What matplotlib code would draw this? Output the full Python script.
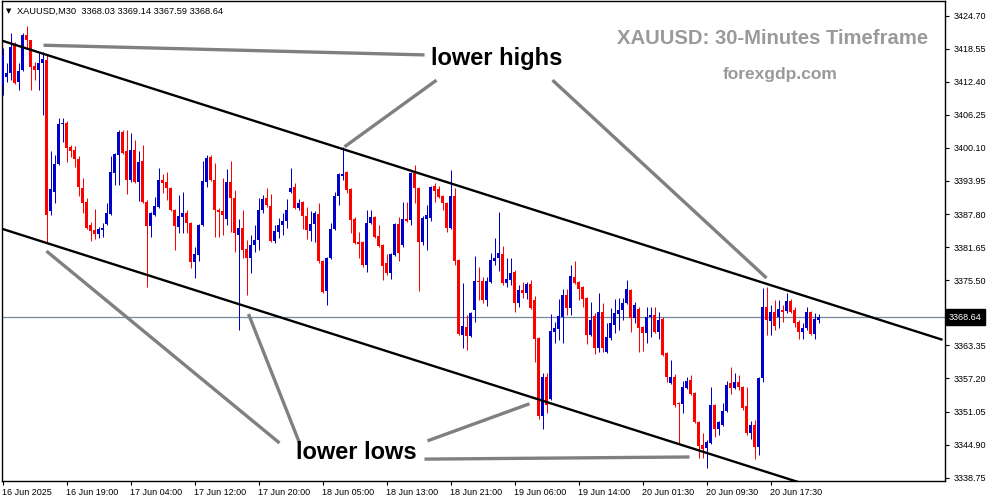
import matplotlib
matplotlib.use("Agg")
import matplotlib.pyplot as plt
import numpy as np
from matplotlib.transforms import blended_transform_factory

# ---------------- data (XAUUSD M30) ----------------
opens = [3411.8, 3413.3, 3414.0, 3419.3, 3412.4, 3414.6, 3421.1, 3420.2, 3415.3, 3414.6,
         3415.9, 3416.5, 3388.4, 3391.9, 3397.1, 3404.6, 3404.7, 3400.3, 3399.7, 3398.0,
         3392.6, 3390.0, 3385.8, 3384.8, 3384.1, 3384.8, 3386.0, 3387.8, 3395.4, 3398.8,
         3403.1, 3399.5, 3394.1, 3399.7, 3393.8, 3397.7, 3390.0, 3385.6, 3387.6, 3389.1,
         3394.1, 3393.8, 3392.6, 3388.6, 3385.4, 3387.3, 3388.0, 3386.1, 3378.9, 3380.2,
         3385.8, 3393.8, 3398.4, 3394.1, 3388.6, 3388.4, 3386.9, 3393.8, 3390.8, 3383.9,
         3385.2, 3381.3, 3379.6, 3382.0, 3383.0, 3388.6, 3390.8, 3389.3, 3382.8, 3384.5,
         3385.8, 3386.5, 3391.9, 3392.8, 3388.9, 3390.0, 3387.4, 3384.6, 3386.0, 3387.8,
         3379.1, 3373.5, 3379.6, 3385.0, 3391.2, 3394.9, 3395.6, 3392.5, 3386.9, 3382.6,
         3382.6, 3378.3, 3386.1, 3387.3, 3383.7, 3382.0, 3378.7, 3376.8, 3380.2, 3386.0,
         3382.0, 3386.9, 3386.7, 3395.4, 3392.6, 3382.6, 3386.9, 3387.1, 3393.0, 3392.5,
         3391.2, 3389.9, 3385.2, 3391.2, 3379.3, 3365.3, 3366.8, 3365.1, 3370.0, 3375.3,
         3375.3, 3371.8, 3375.2, 3379.1, 3379.6, 3380.4, 3375.0, 3375.5, 3377.0, 3371.3,
         3373.7, 3373.1, 3374.8, 3371.8, 3364.7, 3350.2, 3357.5, 3353.4, 3365.9, 3366.4,
         3368.6, 3372.7, 3370.3, 3376.1, 3375.2, 3374.2, 3372.2, 3365.3, 3368.8, 3362.9,
         3369.6, 3362.1, 3364.7, 3367.2, 3369.2, 3370.0, 3371.3, 3373.7, 3368.5, 3370.1,
         3366.8, 3365.7, 3368.6, 3369.0, 3365.9, 3368.3, 3361.9, 3356.4, 3357.5, 3352.6,
         3352.5, 3355.4, 3356.9, 3354.5, 3349.1, 3344.8, 3344.3, 3345.2, 3352.3, 3347.8,
         3348.6, 3351.2, 3356.4, 3355.4, 3356.6, 3355.6, 3352.1, 3347.1, 3348.6, 3344.5,
         3357.3, 3370.5, 3367.9, 3369.6, 3368.6, 3370.0, 3369.8, 3371.6, 3370.0, 3367.7,
         3365.9, 3366.6, 3369.6, 3365.5, 3368.03]
highs = [3418.7, 3415.9, 3421.5, 3419.8, 3415.9, 3421.5, 3422.8, 3420.2, 3416.1, 3417.8,
         3418.0, 3417.4, 3399.5, 3398.8, 3405.7, 3405.7, 3405.1, 3400.6, 3400.5, 3398.6,
         3394.5, 3390.8, 3386.3, 3388.7, 3385.4, 3386.1, 3389.9, 3398.6, 3399.2, 3403.4,
         3403.4, 3403.4, 3402.9, 3401.6, 3399.5, 3400.6, 3390.4, 3388.2, 3391.0, 3396.4,
         3395.3, 3395.6, 3392.8, 3388.7, 3391.3, 3391.9, 3388.6, 3386.3, 3381.7, 3386.0,
         3397.7, 3398.8, 3398.8, 3397.3, 3388.9, 3394.5, 3396.2, 3397.7, 3392.3, 3386.9,
         3388.6, 3383.0, 3383.9, 3385.8, 3390.8, 3391.3, 3392.6, 3391.5, 3385.8, 3387.1,
         3388.0, 3390.6, 3396.4, 3393.6, 3390.6, 3390.2, 3389.1, 3388.4, 3388.4, 3389.9,
         3379.3, 3379.8, 3386.1, 3391.9, 3395.4, 3400.3, 3395.8, 3392.6, 3387.3, 3384.5,
         3382.8, 3388.6, 3388.6, 3387.4, 3385.8, 3382.2, 3380.4, 3380.6, 3386.1, 3387.3,
         3390.0, 3390.0, 3395.6, 3396.9, 3392.8, 3387.4, 3389.5, 3393.0, 3393.6, 3393.0,
         3391.3, 3390.0, 3396.0, 3392.6, 3379.4, 3375.0, 3369.0, 3369.6, 3380.0, 3378.0,
         3376.1, 3376.1, 3380.6, 3383.3, 3388.2, 3381.9, 3379.6, 3379.6, 3377.4, 3374.6,
         3375.2, 3375.2, 3375.5, 3372.6, 3364.9, 3358.2, 3358.2, 3369.2, 3367.7, 3372.0,
         3373.9, 3373.9, 3378.3, 3379.1, 3375.3, 3374.4, 3372.4, 3371.4, 3369.4, 3373.1,
         3371.3, 3367.5, 3370.3, 3372.0, 3372.2, 3372.2, 3375.5, 3373.9, 3371.4, 3370.5,
         3367.0, 3370.5, 3370.5, 3370.5, 3369.6, 3368.6, 3362.1, 3360.6, 3358.0, 3352.8,
         3356.7, 3357.5, 3357.9, 3354.7, 3349.3, 3347.1, 3345.8, 3355.6, 3352.5, 3349.3,
         3352.6, 3356.7, 3359.3, 3358.2, 3357.9, 3355.8, 3355.6, 3349.3, 3349.5, 3357.5,
         3374.0, 3374.2, 3370.9, 3371.8, 3371.8, 3370.9, 3373.1, 3372.0, 3370.5, 3368.1,
         3367.5, 3370.5, 3369.8, 3369.4, 3369.14]
lows = [3409.9, 3412.4, 3412.7, 3412.0, 3410.9, 3414.4, 3418.7, 3410.9, 3412.7, 3410.9,
        3406.2, 3382.6, 3387.6, 3389.9, 3396.9, 3401.2, 3397.5, 3398.4, 3396.6, 3391.2,
        3388.0, 3385.0, 3382.8, 3383.2, 3383.3, 3383.5, 3385.8, 3387.6, 3393.2, 3393.2,
        3399.0, 3391.5, 3393.8, 3393.6, 3390.2, 3389.9, 3374.2, 3383.5, 3387.4, 3388.9,
        3391.7, 3390.4, 3388.4, 3381.1, 3384.3, 3384.3, 3384.3, 3377.8, 3375.9, 3379.1,
        3385.6, 3392.8, 3394.0, 3383.5, 3383.5, 3383.9, 3385.8, 3384.5, 3380.7, 3366.2,
        3379.6, 3372.7, 3376.8, 3380.7, 3381.1, 3388.0, 3389.1, 3382.6, 3382.4, 3383.3,
        3383.9, 3385.2, 3391.7, 3388.7, 3388.6, 3385.0, 3383.2, 3382.8, 3382.6, 3378.7,
        3373.1, 3370.9, 3379.4, 3384.8, 3389.5, 3394.1, 3391.7, 3384.3, 3382.2, 3379.6,
        3378.0, 3377.0, 3386.0, 3383.3, 3381.7, 3375.5, 3376.5, 3375.7, 3380.0, 3379.1,
        3381.7, 3386.3, 3385.8, 3389.9, 3373.5, 3382.0, 3381.1, 3386.5, 3390.0, 3390.8,
        3388.6, 3384.5, 3385.0, 3378.3, 3365.3, 3362.9, 3362.5, 3364.9, 3367.7, 3371.8,
        3371.3, 3370.7, 3375.0, 3378.3, 3377.2, 3374.6, 3374.2, 3374.6, 3369.6, 3370.5,
        3372.2, 3372.0, 3370.1, 3360.3, 3349.7, 3347.8, 3350.8, 3353.2, 3363.8, 3364.4,
        3363.8, 3369.0, 3369.0, 3374.8, 3371.8, 3370.5, 3363.6, 3365.1, 3361.8, 3362.1,
        3362.1, 3361.9, 3364.4, 3365.7, 3366.2, 3368.1, 3371.1, 3365.9, 3367.5, 3362.1,
        3362.3, 3363.8, 3364.9, 3365.7, 3364.6, 3361.4, 3356.6, 3356.2, 3351.9, 3345.0,
        3350.8, 3355.3, 3354.1, 3348.9, 3342.4, 3342.4, 3340.6, 3345.0, 3346.3, 3346.7,
        3348.4, 3351.0, 3354.3, 3355.3, 3355.1, 3351.3, 3346.7, 3346.0, 3342.2, 3343.0,
        3356.6, 3365.3, 3365.3, 3366.2, 3366.6, 3367.7, 3369.4, 3369.4, 3366.8, 3364.6,
        3364.6, 3366.2, 3365.3, 3364.6, 3367.59]
closes = [3417.4, 3414.0, 3418.9, 3412.2, 3414.4, 3421.1, 3420.2, 3415.2, 3414.6, 3415.9,
          3416.7, 3387.6, 3392.5, 3397.1, 3404.6, 3404.7, 3400.1, 3399.5, 3398.0, 3392.8,
          3389.9, 3385.2, 3384.6, 3384.1, 3385.0, 3385.2, 3388.0, 3395.6, 3399.0, 3403.1,
          3399.2, 3394.1, 3399.7, 3393.8, 3397.5, 3390.0, 3385.6, 3388.0, 3389.3, 3394.1,
          3393.6, 3392.6, 3388.6, 3385.6, 3387.4, 3388.0, 3386.1, 3378.9, 3380.4, 3385.8,
          3394.0, 3398.2, 3394.1, 3388.6, 3388.2, 3387.6, 3393.8, 3390.8, 3384.3, 3385.2,
          3381.1, 3379.6, 3382.0, 3383.0, 3388.6, 3390.6, 3389.5, 3382.8, 3384.6, 3385.8,
          3386.5, 3388.6, 3392.6, 3388.9, 3389.9, 3387.4, 3384.8, 3386.0, 3388.0, 3379.1,
          3373.3, 3379.6, 3385.0, 3391.2, 3395.3, 3395.3, 3392.3, 3386.7, 3382.4, 3382.2,
          3378.3, 3386.1, 3387.3, 3383.5, 3381.9, 3378.1, 3376.8, 3380.4, 3386.0, 3380.6,
          3386.9, 3386.5, 3395.4, 3392.6, 3382.6, 3387.1, 3387.6, 3392.8, 3392.1, 3391.0,
          3389.9, 3385.2, 3391.2, 3379.1, 3365.5, 3367.0, 3365.1, 3369.4, 3375.3, 3375.2,
          3371.8, 3375.3, 3379.3, 3379.6, 3380.6, 3375.0, 3375.7, 3376.8, 3371.3, 3373.7,
          3373.1, 3374.8, 3370.3, 3364.6, 3350.2, 3357.5, 3352.3, 3366.0, 3366.6, 3368.8,
          3372.7, 3370.3, 3376.3, 3375.0, 3373.9, 3372.0, 3365.3, 3368.1, 3362.9, 3369.6,
          3362.9, 3364.9, 3367.5, 3369.4, 3370.0, 3371.3, 3373.9, 3368.5, 3370.9, 3366.6,
          3365.7, 3368.6, 3369.0, 3365.9, 3368.1, 3361.6, 3357.5, 3357.5, 3352.3, 3352.5,
          3355.6, 3356.7, 3354.3, 3349.1, 3344.6, 3344.1, 3345.4, 3352.3, 3347.8, 3349.1,
          3351.2, 3356.0, 3355.4, 3356.6, 3355.6, 3351.7, 3347.1, 3348.6, 3344.5, 3357.3,
          3370.5, 3368.1, 3369.6, 3367.0, 3370.1, 3369.6, 3371.6, 3369.6, 3367.5, 3365.9,
          3366.6, 3369.6, 3365.5, 3368.3, 3368.64]

time_labels = ["16 Jun 2025", "16 Jun 19:00", "17 Jun 04:00", "17 Jun 12:00", "17 Jun 20:00",
               "18 Jun 05:00", "18 Jun 13:00", "18 Jun 21:00", "19 Jun 06:00", "19 Jun 14:00",
               "20 Jun 01:30", "20 Jun 09:30", "20 Jun 17:30"]
time_label_bars = [0, 16, 32, 48, 64, 80, 96, 112, 128, 144, 160, 176, 192]
price_ticks = [3424.70, 3418.55, 3412.40, 3406.25, 3400.10, 3393.95, 3387.80, 3381.65,
               3375.50, 3369.35, 3363.35, 3357.20, 3351.05, 3344.90, 3338.75]
last_price = 3368.64

# channel trend lines (bar index, price)
upper_channel = [(-0.75, 3420.2), (235.0, 3364.4)]
lower_channel = [(-0.75, 3385.2), (235.0, 3329.4)]

# grey annotation pointers (bar index, price)
pointers = [
    [(10.25, 3419.2), (105.5, 3417.4)],
    [(108.5, 3412.7), (85.5, 3400.3)],
    [(137.5, 3412.7), (191.0, 3375.9)],
    [(11.0, 3380.9), (69.25, 3345.2)],
    [(61.5, 3369.2), (74.25, 3345.2)],
    [(106.25, 3345.6), (131.75, 3352.5)],
    [(105.5, 3342.2), (171.75, 3342.6)],
]

# ---------------- figure ----------------
W, H = 991, 501
fig = plt.figure(figsize=(W / 100, H / 100), dpi=100)
fig.patch.set_facecolor("white")
ax = fig.add_axes([2 / W, 20 / H, 943 / W, 480 / H])
ax.set_facecolor("white")

BULL = "#0000CD"
BEAR = "#FF0000"

o = np.array(opens); h = np.array(highs); l = np.array(lows); c = np.array(closes)
idx = np.arange(len(o))
cols = np.where(c >= o, BULL, BEAR)

ax.axhline(last_price, color="#778899", lw=0.9, zorder=1)
ax.vlines(idx, l, h, colors=cols, linewidth=0.72, zorder=3)
body_bottom = np.minimum(o, c)
body_h = np.maximum(np.abs(c - o), 0.2)
ax.bar(idx, body_h, bottom=body_bottom, width=0.7, color=cols, linewidth=0,
       antialiased=False, zorder=3)

for line in (upper_channel, lower_channel):
    (x0, y0), (x1, y1) = line
    ax.plot([x0, x1], [y0, y1], color="black", lw=1.7, zorder=5, solid_capstyle="butt")

for p in pointers:
    (x0, y0), (x1, y1) = p
    ax.plot([x0, x1], [y0, y1], color="#808080", lw=2.4, zorder=6, solid_capstyle="butt")

ax.text(123.5, 3416.8, "lower highs", ha="center", va="center", fontsize=17,
        fontweight="bold", family="Liberation Sans", color="black", zorder=7)
ax.text(88.5, 3343.5, "lower lows", ha="center", va="center", fontsize=17,
        fontweight="bold", family="Liberation Sans", color="black", zorder=7)

ax.set_xlim(-0.125, 235.625)
ax.set_ylim(3338.13, 3427.43)

# axes styling
for s in ax.spines.values():
    s.set_color("black")
    s.set_linewidth(1.0)

ax.set_xticks(time_label_bars)
ax.set_xticklabels(time_labels, fontsize=6.5, family="Liberation Sans")
for lbl in ax.get_xticklabels():
    lbl.set_horizontalalignment("left")
ax.tick_params(axis="x", length=3, width=0.8, pad=2, direction="out")

ax.yaxis.tick_right()
ax.set_yticks(price_ticks)
ax.set_yticklabels([f"{v:.2f}" for v in price_ticks], fontsize=6.5, family="Liberation Sans")
ax.tick_params(axis="y", length=3, width=0.8, pad=3, direction="out")

# current price tag (covers the 3369.35 label as in the terminal)
tr = blended_transform_factory(ax.transAxes, ax.transData)
ax.text(1.004, last_price, f"{last_price:.2f}", transform=tr, ha="left", va="center",
        fontsize=6.5, family="Liberation Sans", color="white", clip_on=False, zorder=20,
        bbox=dict(facecolor="black", edgecolor="black", boxstyle="square,pad=0.35"))

# header & branding
fig.text(6 / W, 1 - 11 / H, "\u25BC", fontsize=5, color="black", va="center", ha="left")
fig.text(17 / W, 1 - 11 / H, f"XAUUSD,M30  {opens[-1]:.2f} {highs[-1]:.2f} {lows[-1]:.2f} {closes[-1]:.2f}",
         fontsize=6.7, family="Liberation Sans", color="black", va="center", ha="left")
fig.text(928 / W, 1 - 38 / H, "XAUUSD: 30-Minutes Timeframe", fontsize=14.6, fontweight="bold",
         family="Liberation Sans", color="#9a9a9a", ha="right", va="center")
fig.text(780 / W, 1 - 74 / H, "forexgdp.com", fontsize=12.5, fontweight="bold",
         family="Liberation Sans", color="#9a9a9a", ha="center", va="center")

fig.savefig("out.png", dpi=100, facecolor="white")
